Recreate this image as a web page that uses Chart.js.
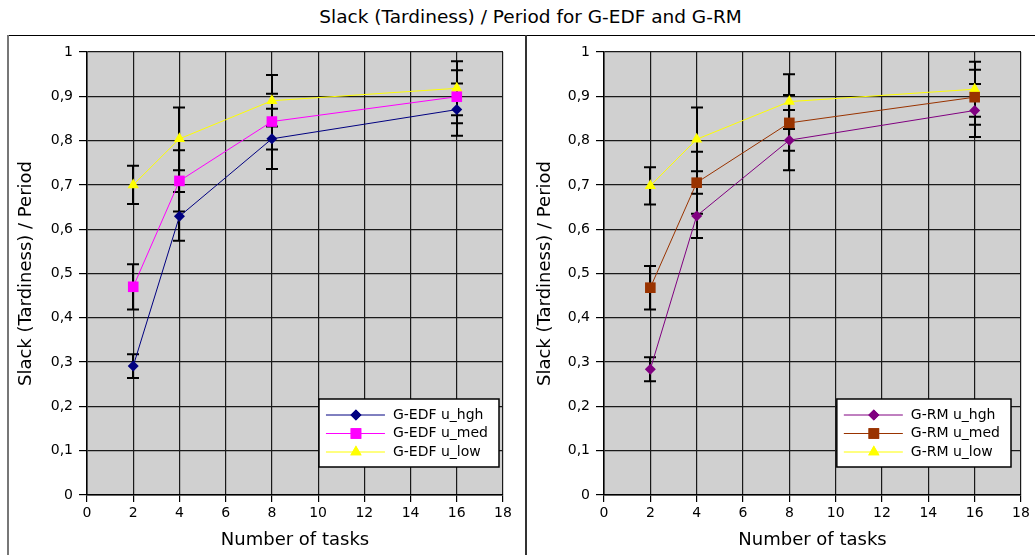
<!DOCTYPE html>
<html>
<head>
<meta charset="utf-8">
<script src="https://cdn.jsdelivr.net/npm/chart.js@4"></script>
<style>
  body { margin: 0; background: #fff; width: 1035px; height: 555px; overflow: hidden; position: relative; font-family: 'DejaVu Sans', sans-serif; }
  #title { position: absolute; left: 13px; top: 6px; width: 1035px; text-align: center; font-size: 18.5px; color: #000; }
  .line { position: absolute; }
  canvas { position: absolute; }
</style>
</head>
<body>
<div id="title">Slack (Tardiness) / Period for G-EDF and G-RM</div>
<div class="line" style="left:7px; top:35px; width:1028px; height:1px; background:#000;"></div>
<div class="line" style="left:7px; top:35px; width:2px; height:520px; background:#777;"></div>
<div class="line" style="left:525px; top:35px; width:2px; height:520px; background:#333;"></div>
<canvas id="edf-chart" width="517" height="519" style="left:8px; top:36px;"></canvas>
<canvas id="rm-chart" width="508" height="519" style="left:527px; top:36px;"></canvas>
<script>
// number of tasks on x
var tasks = [2, 4, 8, 16];
var xTicks = [0, 2, 4, 6, 8, 10, 12, 14, 16, 18];

// G-EDF
var edfHgh = [0.291, 0.629, 0.804, 0.870];
var edfHghErr = [0.027, 0.055, 0.068, 0.059];
var edfMed = [0.470, 0.709, 0.843, 0.899];
var edfMedErr = [0.051, 0.069, 0.063, 0.060];
var edfLow = [0.700, 0.804, 0.890, 0.918];
var edfLowErr = [0.043, 0.071, 0.058, 0.061];

// G-RM
var rmHgh = [0.284, 0.630, 0.801, 0.868];
var rmHghErr = [0.027, 0.050, 0.068, 0.060];
var rmMed = [0.468, 0.705, 0.840, 0.898];
var rmMedErr = [0.049, 0.070, 0.063, 0.062];
var rmLow = [0.698, 0.803, 0.888, 0.916];
var rmLowErr = [0.042, 0.072, 0.062, 0.062];

var FONT = 'DejaVu Sans';

var toPoints = (ys) => ys.map((y, i) => ({ x: tasks[i], y: y }));

var makeSet = (label, ys, errs, color, style, radius) => {
    return {
        label: label,
        data: toPoints(ys),
        errors: errs,
        borderColor: color,
        backgroundColor: color,
        borderWidth: 1,
        pointStyle: style,
        pointRadius: radius,
        pointHoverRadius: radius,
        pointBorderWidth: 0,
        pointBackgroundColor: color,
        tension: 0
    };
};

// grey plot background
var plotBg = {
    id: 'plotBg',
    beforeDraw(chart) {
        var a = chart.chartArea, ctx = chart.ctx;
        ctx.save();
        ctx.fillStyle = '#d0d0d0';
        ctx.fillRect(a.left, a.top, a.right - a.left, a.bottom - a.top);
        ctx.restore();
    }
};

// vertical error bars drawn from the errors arrays
var errorBars = {
    id: 'errorBars',
    beforeDatasetsDraw(chart) {
        var ctx = chart.ctx, xs = chart.scales.x, ys = chart.scales.y;
        ctx.save();
        ctx.strokeStyle = '#000';
        ctx.lineWidth = 2;
        chart.data.datasets.forEach((ds) => {
            ds.data.forEach((p, i) => {
                var e = ds.errors[i];
                var px = Math.round(xs.getPixelForValue(p.x));
                var top = ys.getPixelForValue(p.y + e);
                var bot = ys.getPixelForValue(p.y - e);
                ctx.beginPath();
                ctx.moveTo(px, top); ctx.lineTo(px, bot);
                ctx.moveTo(px - 6, top); ctx.lineTo(px + 6, top);
                ctx.moveTo(px - 6, bot); ctx.lineTo(px + 6, bot);
                ctx.stroke();
            });
        });
        ctx.restore();
    }
};

// legend box inside the plot, bottom right
var boxLegend = {
    id: 'boxLegend',
    afterDraw(chart, args, opts) {
        var ctx = chart.ctx, a = chart.chartArea;
        var sets = chart.data.datasets;
        ctx.save();
        ctx.font = '14px ' + FONT;
        var tw = 0;
        sets.forEach((ds) => { tw = Math.max(tw, ctx.measureText(ds.label).width); });
        var w = 7 + 59 + 8 + tw + 11, h = 68, rowH = 18.5;
        var x0 = a.right - opts.right - w, y0 = a.bottom - opts.bottom - h;
        ctx.fillStyle = '#fff';
        ctx.fillRect(x0, y0, w, h);
        ctx.strokeStyle = '#000';
        ctx.lineWidth = 1.5;
        ctx.strokeRect(x0, y0, w, h);
        sets.forEach((ds, i) => {
            var cy = y0 + 16 + i * rowH;
            ctx.strokeStyle = ds.borderColor;
            ctx.lineWidth = 1;
            ctx.beginPath();
            ctx.moveTo(x0 + 7, cy); ctx.lineTo(x0 + 66, cy);
            ctx.stroke();
            ctx.fillStyle = ds.backgroundColor;
            Chart.helpers.drawPoint(ctx, { pointStyle: ds.pointStyle, radius: ds.pointRadius, borderWidth: 0 }, x0 + 37, cy);
            ctx.fill();
            ctx.fillStyle = '#000';
            ctx.textBaseline = 'middle';
            ctx.textAlign = 'left';
            ctx.fillText(ds.label, x0 + 74, cy);
        });
        ctx.restore();
    }
};

var PlotChart = (id, sets, yWidth, padRight, legendRight) => {
    var ctx = document.getElementById(id).getContext('2d');
    return new Chart(ctx, {
        type: 'line',
        data: { datasets: sets },
        plugins: [plotBg, errorBars, boxLegend],
        options: {
            responsive: false,
            animation: false,
            devicePixelRatio: 1,
            layout: { padding: { left: 0, top: 16, right: padRight, bottom: 0 } },
            plugins: {
                legend: { display: false },
                tooltip: { enabled: false },
                boxLegend: { right: legendRight, bottom: 28 }
            },
            scales: {
                x: {
                    type: 'linear',
                    min: 0,
                    max: 18,
                    afterBuildTicks: (s) => { s.ticks = xTicks.map((v) => ({ value: v })); },
                    afterFit: (s) => { s.height = 60; },
                    grid: { color: '#1a1a1a', lineWidth: 1.2, tickLength: 7, tickColor: '#000' },
                    border: { color: '#000', width: 1.5 },
                    ticks: { color: '#000', padding: 3, maxRotation: 0, font: { family: FONT, size: 14 } },
                    title: { display: true, text: 'Number of tasks', color: '#000', font: { family: FONT, size: 18 }, padding: { top: 0, bottom: 4 } }
                },
                y: {
                    min: 0,
                    max: 1,
                    afterFit: (s) => { s.width = yWidth; },
                    grid: { color: '#1a1a1a', lineWidth: 1.2, tickLength: 8, tickColor: '#000' },
                    border: { color: '#000', width: 1.5 },
                    ticks: {
                        stepSize: 0.1,
                        color: '#000',
                        padding: 6,
                        font: { family: FONT, size: 14 },
                        callback: (v) => (Math.round(v * 10) / 10).toString().replace('.', ',')
                    },
                    title: { display: true, text: 'Slack (Tardiness) / Period', color: '#000', font: { family: FONT, size: 18 }, padding: { top: 8, bottom: 0 } }
                }
            }
        }
    });
};

PlotChart('edf-chart', [
    makeSet('G-EDF u_hgh', edfHgh, edfHghErr, '#000080', 'rectRot', 5.5),
    makeSet('G-EDF u_med', edfMed, edfMedErr, '#ff00ff', 'rect', 7.5),
    makeSet('G-EDF u_low', edfLow, edfLowErr, '#ffff00', 'triangle', 6.5)
], 79, 22, 4);

PlotChart('rm-chart', [
    makeSet('G-RM u_hgh', rmHgh, rmHghErr, '#800080', 'rectRot', 5.5),
    makeSet('G-RM u_med', rmMed, rmMedErr, '#993300', 'rect', 7.5),
    makeSet('G-RM u_low', rmLow, rmLowErr, '#ffff00', 'triangle', 6.5)
], 77, 14, 10);
</script>
</body>
</html>
